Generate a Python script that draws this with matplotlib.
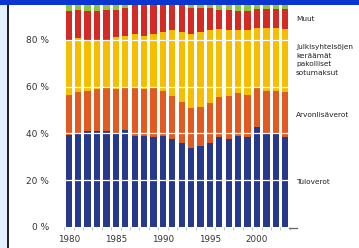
import matplotlib
matplotlib.use("Agg")
import matplotlib.pyplot as plt
from matplotlib.patches import Rectangle

vuodet = list(range(1980, 2004))
# osuudet verotuloista, % (luettu kuvasta)
tuloverot = [39.1, 40.3, 40.8, 41.1, 40.8, 39.9, 41.4, 38.8, 38.8, 38.5, 38.8, 37.7,
             35.7, 33.6, 34.7, 35.7, 38.5, 37.7, 39.0, 38.5, 42.8, 40.0, 40.3, 38.5]
arvonlisaverot = [17.1, 17.5, 17.4, 17.7, 18.7, 18.9, 18.4, 21.0, 20.3, 21.1, 19.4, 18.4,
                  17.8, 17.1, 16.7, 17.4, 17.0, 18.4, 18.1, 18.1, 17.1, 18.2, 17.9, 19.3]
sotumaksut = [23.9, 22.8, 21.9, 20.8, 20.6, 22.5, 21.9, 22.5, 22.6, 23.0, 25.2, 28.0,
              29.8, 31.7, 31.9, 31.0, 28.9, 28.0, 27.0, 27.5, 25.2, 26.9, 26.9, 26.6]
muut = [12.3, 12.1, 12.2, 12.8, 12.6, 11.4, 11.8, 13.7, 14.3, 13.4, 12.6, 11.9,
        12.7, 11.4, 10.5, 9.3, 8.3, 8.6, 8.2, 8.2, 7.9, 7.9, 7.9, 8.6]
loput = [7.6, 7.3, 7.7, 7.6, 7.3, 7.3, 6.5, 4.0, 4.0, 4.0, 4.0, 4.0,
         4.0, 6.2, 6.2, 6.6, 7.3, 7.3, 7.7, 7.7, 7.0, 7.0, 7.0, 7.0]

sarjat = [tuloverot, arvonlisaverot, sotumaksut, muut, loput]
varit = ["#27398a", "#e05a22", "#f5bf00", "#d42a26", "#8cc43c"]

W, H = 359, 248
fig = plt.figure(figsize=(W / 100, H / 100), dpi=100)
fig.patch.set_facecolor("white")

# akselit ulottuvat kuvan yläreunan yli (100 % ei näy)
ax = fig.add_axes([64.1 / W, (H - 226.9) / H, 225.8 / W, 233.9 / H])
ax.set_facecolor("white")

x = list(range(len(vuodet)))
pohja = [0.0] * len(vuodet)
for arvot, vari in zip(sarjat, varit):
    ax.bar(x, arvot, bottom=pohja, width=0.67, color=vari, zorder=2)
    pohja = [p + a for p, a in zip(pohja, arvot)]

ax.set_xlim(-0.5, len(vuodet) - 0.5)
ax.set_ylim(0, 100)

for g in [20, 40, 60, 80]:
    ax.axhline(g, color="white", lw=0.9, zorder=3)

for s in ax.spines.values():
    s.set_visible(False)

ax.set_yticks([0, 20, 40, 60, 80])
ax.set_yticklabels(["0 %", "20 %", "40 %", "60 %", "80 %"], fontsize=6.5, color="#333333")
ax.tick_params(axis="y", length=0, pad=11)

ax.set_xticks([i for i, v in enumerate(vuodet) if v % 5 == 0])
ax.set_xticklabels([str(v) for v in vuodet if v % 5 == 0], fontsize=6.3, color="#333333")
ax.set_xticks([i + 0.5 for i in range(-1, len(vuodet))], minor=True)
ax.tick_params(axis="x", which="major", length=0, pad=6)
ax.tick_params(axis="x", which="minor", length=2, color="#c8c8c8", width=0.8)

# pieni viiva oikeassa alakulmassa
ax.plot([len(vuodet) - 0.6, len(vuodet) + 0.3], [-0.6, -0.6], color="#666666",
        lw=0.9, clip_on=False, zorder=4)

# selitteet oikealla
tekstit = [("Muut", 19), ("Julkisyhteisöjen\nkeräämät\npakolliset\nsotumaksut", 60),
           ("Arvonlisäverot", 115), ("Tuloverot", 182)]
for teksti, yy in tekstit:
    fig.text(296 / W, 1 - yy / H, teksti, fontsize=5.3, color="#222222",
             va="center", ha="left", linespacing=1.5)

# ikkunan reunat
fig.add_artist(Rectangle((0, 0), 7 / W, 1, transform=fig.transFigure,
                         facecolor="#e2f1fd", edgecolor="none", zorder=5))
fig.add_artist(Rectangle((7 / W, 0), 1.5 / W, 1, transform=fig.transFigure,
                         facecolor="#222222", edgecolor="none", zorder=6))
fig.add_artist(Rectangle((0, 1 - 5 / H), 1, 5 / H, transform=fig.transFigure,
                         facecolor="#0b35d0", edgecolor="none", zorder=7))

fig.savefig("out.png", dpi=100)
